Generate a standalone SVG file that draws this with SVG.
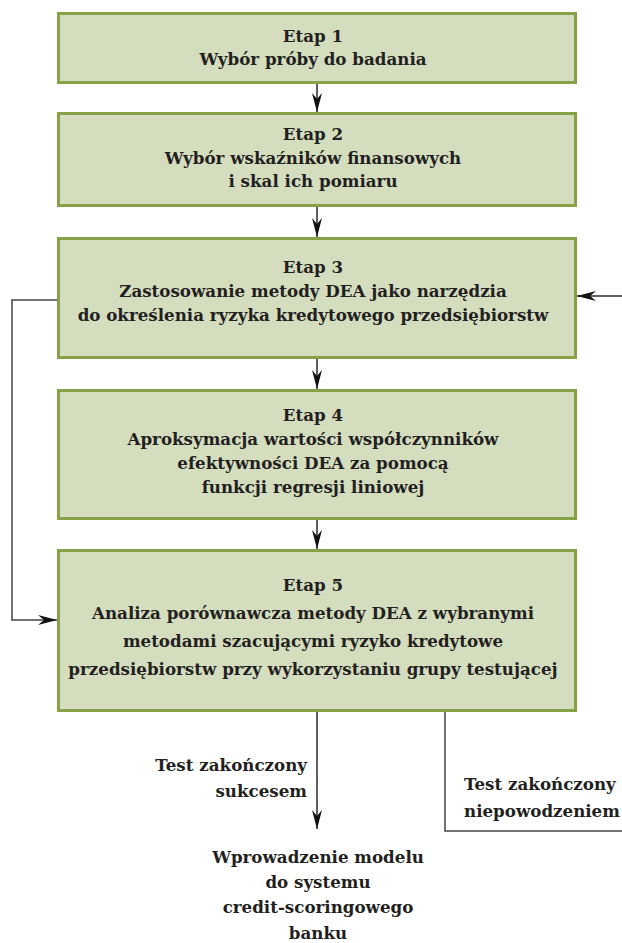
<svg xmlns="http://www.w3.org/2000/svg" width="622" height="943" viewBox="0 0 622 943">
<defs>
<style>
.box{fill:#d5ddbf;stroke:#87a146;stroke-width:3}
.t{font-family:"DejaVu Serif","Liberation Serif",serif;font-weight:bold;font-size:16.7px;fill:#231f20;text-anchor:middle}
.c{fill:none;stroke:#2b2b2b;stroke-width:1.5}
</style>
<marker id="ah" markerUnits="userSpaceOnUse" markerWidth="24" markerHeight="14" viewBox="-20 -7 22 14" refX="0" refY="0" orient="auto">
<path d="M0,0 L-19,-5 L-13,0 L-19,5 Z" fill="#111"/>
</marker>
</defs>
<rect width="622" height="943" fill="#fff"/>
<g id="connectors">
<line class="c" x1="317" y1="84" x2="317" y2="112" marker-end="url(#ah)"/>
<line class="c" x1="317" y1="207" x2="317" y2="237" marker-end="url(#ah)"/>
<line class="c" x1="317" y1="359" x2="317" y2="389" marker-end="url(#ah)"/>
<line class="c" x1="317" y1="520" x2="317" y2="549" marker-end="url(#ah)"/>
<path class="c" d="M57,300 H12 V620 H57" marker-end="url(#ah)" style="stroke:#444"/>
<path class="c" d="M622,296 H577" marker-end="url(#ah)"/>
<path class="c" d="M317,712 V829" marker-end="url(#ah)"/>
<path class="c" d="M445,712 V831 H622" style="stroke:#444"/>
</g>
<g id="etap1">
<rect class="box" x="58.5" y="13.5" width="517" height="69"/>
<text class="t" x="313" y="41.5">Etap 1</text>
<text class="t" x="313" y="64.5">Wybór próby do badania</text>
</g>
<g id="etap2">
<rect class="box" x="58.5" y="113.5" width="517" height="92"/>
<text class="t" x="313" y="139.5">Etap 2</text>
<text class="t" x="313" y="163.5">Wybór wskaźników finansowych</text>
<text class="t" x="313" y="187">i skal ich pomiaru</text>
</g>
<g id="etap3">
<rect class="box" x="58.5" y="238.5" width="517" height="119"/>
<text class="t" x="313" y="272.5">Etap 3</text>
<text class="t" x="313" y="296.5">Zastosowanie metody DEA jako narzędzia</text>
<text class="t" x="313" y="320.5">do określenia ryzyka kredytowego przedsiębiorstw</text>
</g>
<g id="etap4">
<rect class="box" x="58.5" y="390.5" width="517" height="128"/>
<text class="t" x="313" y="420.5">Etap 4</text>
<text class="t" x="313" y="444.5">Aproksymacja wartości współczynników</text>
<text class="t" x="313" y="468.5">efektywności DEA za pomocą</text>
<text class="t" x="313" y="492.5">funkcji regresji liniowej</text>
</g>
<g id="etap5">
<rect class="box" x="58.5" y="550.5" width="517" height="160"/>
<text class="t" x="313" y="591">Etap 5</text>
<text class="t" x="313" y="619">Analiza porównawcza metody DEA z wybranymi</text>
<text class="t" x="313" y="646.5">metodami szacującymi ryzyko kredytowe</text>
<text class="t" x="313" y="674.5">przedsiębiorstw przy wykorzystaniu grupy testującej</text>
</g>
<g id="label-success">
<text class="t" x="307" y="771" style="text-anchor:end">Test zakończony</text>
<text class="t" x="307" y="797" style="text-anchor:end">sukcesem</text>
</g>
<g id="label-failure">
<text class="t" x="464" y="790" style="text-anchor:start">Test zakończony</text>
<text class="t" x="464" y="817" style="text-anchor:start">niepowodzeniem</text>
</g>
<g id="wprowadzenie">
<text class="t" x="318" y="863">Wprowadzenie modelu</text>
<text class="t" x="318" y="888">do systemu</text>
<text class="t" x="318" y="913">credit-scoringowego</text>
<text class="t" x="318" y="939">banku</text>
</g>
</svg>
